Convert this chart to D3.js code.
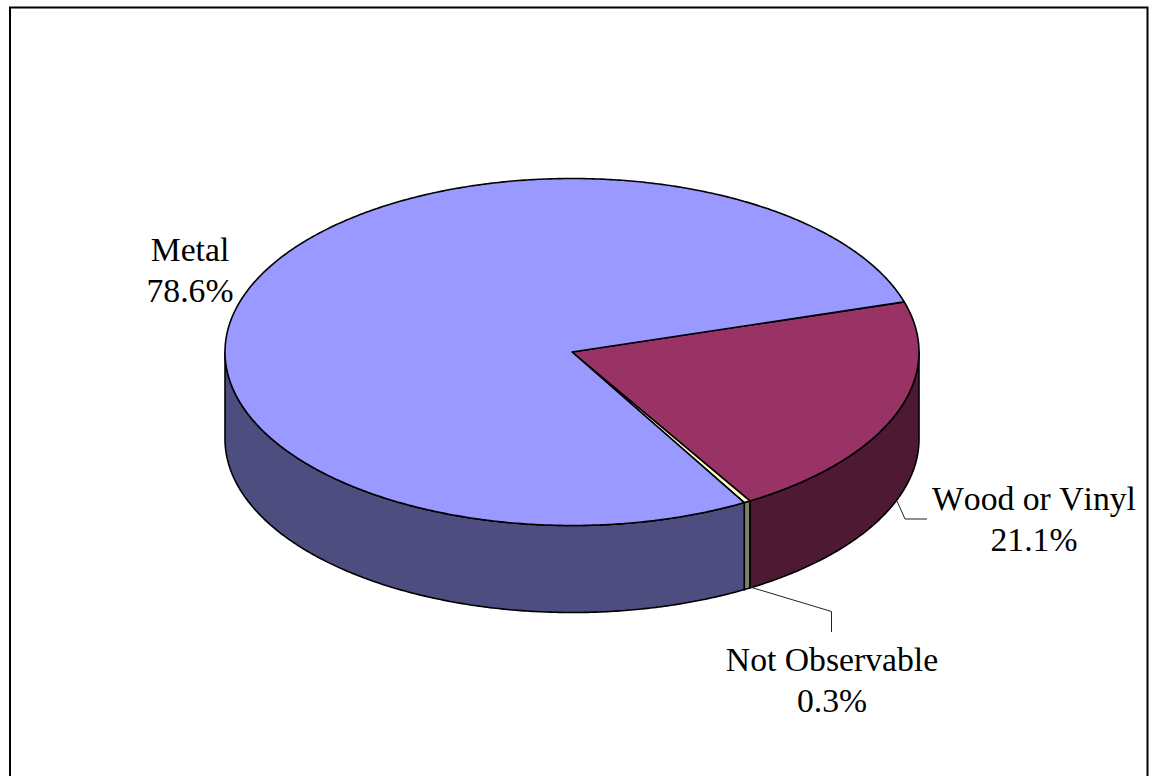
<!DOCTYPE html>
<html><head><meta charset="utf-8"><script src="https://cdn.jsdelivr.net/npm/d3@7"></script>
<style>html,body{margin:0;padding:0;background:#fff}svg{display:block}text{font-family:"Liberation Serif",serif;font-size:33.7px;font-kerning:none;fill:#000;text-anchor:middle}</style></head>
<body><svg width="1149" height="776"></svg><script>
const categories=["Wood or Vinyl","Not Observable","Metal"];
const values=[21.1,0.3,78.6];
const topColors=["#993366","#FFFFCC","#9999FF"];
const sideColors=["#4D1933","#808066","#4D4D80"];
const labelLines=[["Wood or Vinyl","21.1%"],["Not Observable","0.3%"],["Metal","78.6%"]];
const labelPos=[[1034,510],[832,671],[190,261]];
const leaders=[[[897,501],[905,519],[927,519]],[[750,587],[831.5,611.5],[831.5,632]]];
const svg=d3.select("svg");
const cx=572,cy=352,rx=347,ry=173.5,depth=87;
const startDeg=73.2;
svg.append("path").attr("d","M10,776V7.5H1147.5V776").attr("fill","none").attr("stroke","#000").attr("stroke-width",2);
const pie=d3.pie().sort(null).startAngle(startDeg*Math.PI/180).endAngle((startDeg+360)*Math.PI/180)(values);
const line=d3.line();
const px=(a,dy=0)=>[cx+rx*Math.sin(a),cy-ry*Math.cos(a)+dy];
const samples=(a0,a1)=>{const n=Math.max(2,Math.ceil((a1-a0)*120));return d3.range(n+1).map(i=>a0+(a1-a0)*i/n);};
pie.forEach((d,i)=>{
  for(const k of [0,1]){
    const lo=Math.max(d.startAngle,Math.PI/2+k*2*Math.PI), hi=Math.min(d.endAngle,1.5*Math.PI+k*2*Math.PI);
    if(hi<=lo) continue;
    const as=samples(lo,hi);
    const pts=as.map(a=>px(a)).concat(as.slice().reverse().map(a=>px(a,depth)));
    svg.append("path").attr("d",line(pts)+"Z").attr("fill",sideColors[i]).attr("stroke","#000").attr("stroke-width",1.6).attr("stroke-linejoin","round");
  }
});
pie.forEach((d,i)=>{
  const pts=[[cx,cy]].concat(samples(d.startAngle,d.endAngle).map(a=>px(a)));
  svg.append("path").attr("d",line(pts)+"Z").attr("fill",topColors[i]).attr("stroke","#000").attr("stroke-width",1.6).attr("stroke-linejoin","round");
});
leaders.forEach(l=>svg.append("path").attr("d",line(l)).attr("fill","none").attr("stroke","#222").attr("stroke-width",1));
labelLines.forEach((ls,i)=>{
  const t=svg.append("text").attr("x",labelPos[i][0]).attr("y",labelPos[i][1]);
  ls.forEach((s,j)=>t.append("tspan").attr("x",labelPos[i][0]).attr("y",labelPos[i][1]+j*41).text(s));
});
</script></body></html>
